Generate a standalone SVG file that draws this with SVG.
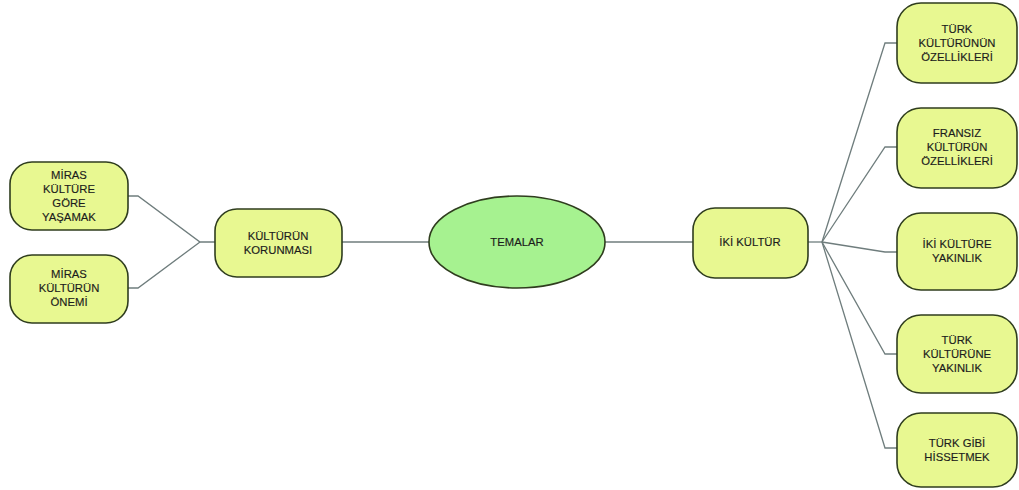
<svg xmlns="http://www.w3.org/2000/svg" width="1019" height="490" viewBox="0 0 1019 490">
<style>
.box{fill:#e8f891;stroke:#2f3d1e;stroke-width:1.6}
.ell{fill:#a6f290;stroke:#2f3d1e;stroke-width:1.6}
.t{font-family:"Liberation Sans",Arial,sans-serif;font-size:11.3px;fill:#1c1c1c;text-anchor:middle;stroke:#1c1c1c;stroke-width:0.15}
.c{fill:none;stroke:#6f7d7d;stroke-width:1.3}
</style>
<rect width="1019" height="490" fill="#ffffff"/>
<g id="connectors">
<polyline class="c" points="128,196 138,196 200,242 215,242"/>
<polyline class="c" points="128,288 138,288 200,242"/>
<line class="c" x1="342" y1="242" x2="429" y2="242"/>
<line class="c" x1="605" y1="242" x2="693" y2="242"/>
<polyline class="c" points="808,242 822,242"/>
<polyline class="c" points="822,242 885,43 897,43"/>
<polyline class="c" points="822,242 885,147 897,147"/>
<polyline class="c" points="822,242 885,252 897,252"/>
<polyline class="c" points="822,242 885,354 897,354"/>
<polyline class="c" points="822,242 885,448 897,448"/>
</g>
<g id="n-miras-gore">
<rect class="box" x="10" y="162" width="118" height="68" rx="22"/>
<text class="t" x="69" y="179">MİRAS</text>
<text class="t" x="69" y="193">KÜLTÜRE</text>
<text class="t" x="69" y="207">GÖRE</text>
<text class="t" x="69" y="221">YAŞAMAK</text>
</g>
<g id="n-miras-onemi">
<rect class="box" x="10" y="255" width="118" height="68" rx="22"/>
<text class="t" x="69" y="278">MİRAS</text>
<text class="t" x="69" y="292">KÜLTÜRÜN</text>
<text class="t" x="69" y="306">ÖNEMİ</text>
</g>
<g id="n-korunmasi">
<rect class="box" x="215" y="209" width="127" height="68" rx="22"/>
<text class="t" x="278" y="240">KÜLTÜRÜN</text>
<text class="t" x="278" y="254">KORUNMASI</text>
</g>
<g id="n-temalar">
<ellipse class="ell" cx="517" cy="242" rx="88" ry="46"/>
<text class="t" x="517" y="246">TEMALAR</text>
</g>
<g id="n-iki-kultur">
<rect class="box" x="693" y="208" width="115" height="70" rx="22"/>
<text class="t" x="750" y="246">İKİ KÜLTÜR</text>
</g>
<g id="n-turk-ozellikleri">
<rect class="box" x="897" y="3" width="120" height="80" rx="24"/>
<text class="t" x="957" y="33">TÜRK</text>
<text class="t" x="957" y="47">KÜLTÜRÜNÜN</text>
<text class="t" x="957" y="61">ÖZELLİKLERİ</text>
</g>
<g id="n-fransiz-ozellikleri">
<rect class="box" x="897" y="108" width="120" height="80" rx="24"/>
<text class="t" x="957" y="137">FRANSIZ</text>
<text class="t" x="957" y="151">KÜLTÜRÜN</text>
<text class="t" x="957" y="165">ÖZELLİKLERİ</text>
</g>
<g id="n-iki-kulture">
<rect class="box" x="897" y="213" width="120" height="77" rx="24"/>
<text class="t" x="957" y="248">İKİ KÜLTÜRE</text>
<text class="t" x="957" y="262">YAKINLIK</text>
</g>
<g id="n-turk-kulturune">
<rect class="box" x="897" y="315" width="120" height="78" rx="24"/>
<text class="t" x="957" y="344">TÜRK</text>
<text class="t" x="957" y="358">KÜLTÜRÜNE</text>
<text class="t" x="957" y="372">YAKINLIK</text>
</g>
<g id="n-turk-gibi">
<rect class="box" x="897" y="413" width="120" height="74" rx="24"/>
<text class="t" x="957" y="447">TÜRK GİBİ</text>
<text class="t" x="957" y="461">HİSSETMEK</text>
</g>
</svg>
